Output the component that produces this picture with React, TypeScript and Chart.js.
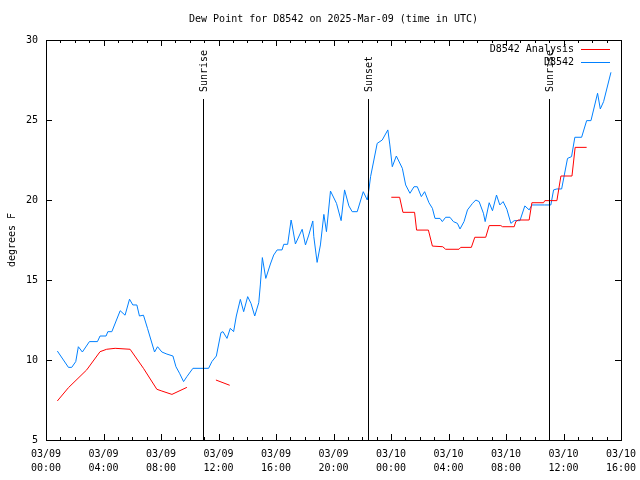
import React, { useEffect, useRef } from "react";
import { Chart, registerables } from "chart.js";

Chart.register(...registerables);

// ---- text ----
const TITLE = "Dew Point for D8542 on 2025-Mar-09 (time in UTC)";
const Y_LABEL = "degrees F";
const SERIES_NAMES = ["D8542 Analysis", "D8542"];
const SERIES_COLORS = ["#ff0000", "#0080ff"];

// ---- axes (x in hours since 03/09 00:00 UTC) ----
const X_MIN = 0;
const X_MAX = 40;
const X_MAJOR_STEP = 4;
const X_MINOR_STEP = 1;
const Y_MIN = 5;
const Y_MAX = 30;
const Y_STEP = 5;
const START_DAY = 9;
const MONTH = "03";

// ---- events ----
const eventHours = [10.95, 22.4, 34.97];
const eventLabels = ["Sunrise", "Sunset", "Sunrise"];

// ---- observed dew point (D8542) ----
const obsHours = [
  0.79, 1.56, 1.79, 2.07, 2.25, 2.53, 3.02, 3.58, 3.76, 4.18, 4.3, 4.58, 5.16, 5.5, 5.81, 6.04,
  6.32, 6.5, 6.78, 7.06, 7.55, 7.76, 8.06, 8.41, 8.83, 9.04, 9.29, 9.57, 9.8, 10.22, 11.31, 11.54,
  11.85, 12.17, 12.31, 12.59, 12.82, 13.05, 13.24, 13.52, 13.75, 14.03, 14.26, 14.52, 14.8, 14.91,
  15.05, 15.29, 15.61, 15.84, 16.08, 16.42, 16.54, 16.81, 17.05, 17.12, 17.35, 17.82, 18.05, 18.28,
  18.56, 18.63, 18.86, 19.09, 19.33, 19.51, 19.79, 20.21, 20.53, 20.77, 21.07, 21.3, 21.65, 22.07,
  22.35, 22.46, 22.58, 23.04, 23.39, 23.78, 23.92, 24.09, 24.37, 24.79, 25.02, 25.32, 25.6, 25.83,
  26.11, 26.34, 26.64, 26.88, 27.06, 27.41, 27.57, 27.8, 28.1, 28.34, 28.62, 28.8, 29.08, 29.32,
  29.67, 29.9, 30.13, 30.43, 30.55, 30.83, 31.06, 31.34, 31.57, 31.8, 32.06, 32.34, 32.57, 32.97,
  33.31, 33.61, 33.8, 34.66, 35.12, 35.31, 35.54, 35.87, 36.28, 36.56, 36.79, 37.26, 37.61, 37.91,
  38.37, 38.56, 38.79, 39.3,
];
const obsValues = [
  10.56, 9.54, 9.54, 9.9, 10.83, 10.5, 11.15, 11.15, 11.5, 11.5, 11.77, 11.77, 13.08, 12.8, 13.8, 13.44,
  13.44, 12.75, 12.8, 11.98, 10.5, 10.83, 10.5, 10.37, 10.25, 9.58, 9.17, 8.65, 8.96, 9.48, 9.48, 9.9,
  10.25, 11.71, 11.77, 11.35, 11.98, 11.77, 12.75, 13.79, 13.02, 13.96, 13.54, 12.75, 13.58, 14.69,
  16.4, 15.1, 16.0, 16.56, 16.88, 16.88, 17.23, 17.23, 18.75, 18.44, 17.25, 18.17, 17.19, 17.81,
  18.69, 17.71, 16.1, 17.19, 19.1, 18.02, 20.56, 19.79, 18.71, 20.63, 19.63, 19.27, 19.27, 20.52,
  20.0, 20.63, 21.46, 23.54, 23.75, 24.38, 23.44, 22.08, 22.75, 21.98, 20.94, 20.42, 20.83, 20.83,
  20.21, 20.52, 19.83, 19.48, 18.85, 18.85, 18.65, 18.92, 18.92, 18.65, 18.54, 18.19, 18.65, 19.38,
  19.79, 20.0, 19.9, 19.17, 18.65, 19.83, 19.33, 20.31, 19.69, 19.9, 19.42, 18.54, 18.71, 18.71,
  19.63, 19.38, 19.69, 19.69, 19.69, 20.63, 20.69, 20.69, 22.6, 22.71, 23.92, 23.92, 24.96, 24.96,
  26.67, 25.69, 26.15, 27.98,
];

// ---- analysis dew point (D8542 Analysis); null = gap ----
const anaHours = [
  0.79, 1.56, 2.83, 3.76, 4.22, 4.81, 5.85, 6.78, 7.71, 8.06, 8.76, 9.8, 10.8, 11.82, 12.78, 18.0,
  24.02, 24.6, 24.83, 25.64, 25.78, 26.6, 26.88, 27.6, 27.8, 28.73, 28.85, 29.59, 29.83, 30.59,
  30.83, 31.64, 31.76, 32.57, 32.68, 32.85, 33.61, 33.8, 34.61, 34.7, 35.54, 35.82, 36.59, 36.81,
  37.61,
];
const anaValues = [
  7.44, 8.27, 9.38, 10.52, 10.67, 10.73, 10.67, 9.48, 8.17, 8.06, 7.85, 8.29, null, 8.75, 8.42, null,
  20.17, 20.17, 19.23, 19.23, 18.12, 18.12, 17.12, 17.08, 16.92, 16.92, 17.04, 17.04, 17.67, 17.67,
  18.4, 18.4, 18.33, 18.33, 18.65, 18.75, 18.75, 19.83, 19.83, 19.96, 19.96, 21.5, 21.5, 23.29,
  23.29,
];

const FONT = '10px "DejaVu Sans Mono", "Liberation Mono", monospace';

function hourLabel(h: number): string[] {
  const day = START_DAY + Math.floor(h / 24);
  const hh = Math.round(h % 24);
  return [`${MONTH}/${String(day).padStart(2, "0")}`, `${String(hh).padStart(2, "0")}:00`];
}

const decorPlugin = {
  id: "gnuplotDecor",
  afterDatasetsDraw(chart: any) {
    const { ctx, chartArea } = chart;
    const { left, right, top, bottom } = chartArea;
    const xs = chart.scales.x;
    const ys = chart.scales.y;
    ctx.save();
    ctx.strokeStyle = "#000";
    ctx.lineWidth = 1;

    // frame
    ctx.strokeRect(Math.round(left) + 0.5, Math.round(top) + 0.5, Math.round(right - left), Math.round(bottom - top));

    // x ticks (inward, bottom + top)
    ctx.beginPath();
    for (let h = X_MIN; h <= X_MAX; h += X_MINOR_STEP) {
      const px = Math.round(xs.getPixelForValue(h)) + 0.5;
      const len = h % X_MAJOR_STEP === 0 ? 6 : 3;
      ctx.moveTo(px, bottom);
      ctx.lineTo(px, bottom - len);
      ctx.moveTo(px, top);
      ctx.lineTo(px, top + len);
    }
    // y ticks (inward, left + right)
    for (let v = Y_MIN; v <= Y_MAX; v += Y_STEP) {
      const py = Math.round(ys.getPixelForValue(v)) + 0.5;
      ctx.moveTo(left, py);
      ctx.lineTo(left + 6, py);
      ctx.moveTo(right, py);
      ctx.lineTo(right - 6, py);
    }
    ctx.stroke();

    // event lines with rotated labels
    ctx.font = FONT;
    ctx.fillStyle = "#000";
    eventHours.forEach((h, i) => {
      const px = Math.round(xs.getPixelForValue(h)) + 0.5;
      const lineTop = top + 59;
      ctx.beginPath();
      ctx.moveTo(px, bottom);
      ctx.lineTo(px, lineTop);
      ctx.stroke();
      ctx.save();
      ctx.translate(px + 1, lineTop - 7);
      ctx.rotate(-Math.PI / 2);
      ctx.textAlign = "left";
      ctx.textBaseline = "middle";
      ctx.fillText(eventLabels[i], 0, 0);
      ctx.restore();
    });

    // legend
    ctx.textAlign = "right";
    ctx.textBaseline = "middle";
    SERIES_NAMES.forEach((name, i) => {
      const y = top + 9 + i * 13;
      ctx.fillStyle = "#000";
      ctx.fillText(name, right - 47, y);
      ctx.strokeStyle = SERIES_COLORS[i];
      ctx.beginPath();
      ctx.moveTo(right - 40, Math.round(y) + 0.5);
      ctx.lineTo(right - 11, Math.round(y) + 0.5);
      ctx.stroke();
    });

    // title
    ctx.fillStyle = "#000";
    ctx.textAlign = "center";
    ctx.textBaseline = "middle";
    ctx.fillText(TITLE, (left + right) / 2, top - 21);

    // y axis title
    ctx.save();
    ctx.translate(12, (top + bottom) / 2);
    ctx.rotate(-Math.PI / 2);
    ctx.textAlign = "center";
    ctx.textBaseline = "middle";
    ctx.fillText(Y_LABEL, 0, 0);
    ctx.restore();

    ctx.restore();
  },
};

export default function App() {
  const canvasRef = useRef<HTMLCanvasElement | null>(null);

  useEffect(() => {
    const canvas = canvasRef.current;
    if (!canvas) return;
    const chart = new Chart(canvas, {
      type: "line",
      data: {
        datasets: [
          {
            label: SERIES_NAMES[0],
            data: anaHours.map((h, i) => ({ x: h, y: anaValues[i] })),
            borderColor: SERIES_COLORS[0],
            borderWidth: 1,
            pointRadius: 0,
            fill: false,
            spanGaps: false,
            tension: 0,
          },
          {
            label: SERIES_NAMES[1],
            data: obsHours.map((h, i) => ({ x: h, y: obsValues[i] })),
            borderColor: SERIES_COLORS[1],
            borderWidth: 1,
            pointRadius: 0,
            fill: false,
            tension: 0,
          },
        ],
      },
      options: {
        responsive: false,
        animation: false,
        maintainAspectRatio: false,
        layout: { padding: { top: 40, right: 19, bottom: 0, left: 0 } },
        plugins: {
          legend: { display: false },
          title: { display: false },
          tooltip: { enabled: false },
        },
        scales: {
          x: {
            type: "linear",
            min: X_MIN,
            max: X_MAX,
            grid: { display: false, drawTicks: false },
            border: { display: false },
            afterFit: (s: any) => {
              s.height = 40;
              s.paddingLeft = 0;
              s.paddingRight = 0;
            },
            ticks: {
              stepSize: X_MAJOR_STEP,
              autoSkip: false,
              maxRotation: 0,
              minRotation: 0,
              padding: 7,
              color: "#000",
              font: { family: '"DejaVu Sans Mono", monospace', size: 10, lineHeight: 1.4 },
              callback: (v: any) => hourLabel(Number(v)),
            },
          },
          y: {
            type: "linear",
            min: Y_MIN,
            max: Y_MAX,
            grid: { display: false, drawTicks: false },
            border: { display: false },
            afterFit: (s: any) => {
              s.width = 46;
              s.paddingTop = 0;
              s.paddingBottom = 0;
            },
            ticks: {
              stepSize: Y_STEP,
              padding: 8,
              color: "#000",
              font: { family: '"DejaVu Sans Mono", monospace', size: 10 },
            },
          },
        },
      },
      plugins: [decorPlugin],
    });
    return () => chart.destroy();
  }, []);

  return (
    <div style={{ position: "absolute", left: 0, top: 0, width: 640, height: 480, background: "#fff" }}>
      <canvas ref={canvasRef} width={640} height={480} style={{ display: "block" }} />
    </div>
  );
}
